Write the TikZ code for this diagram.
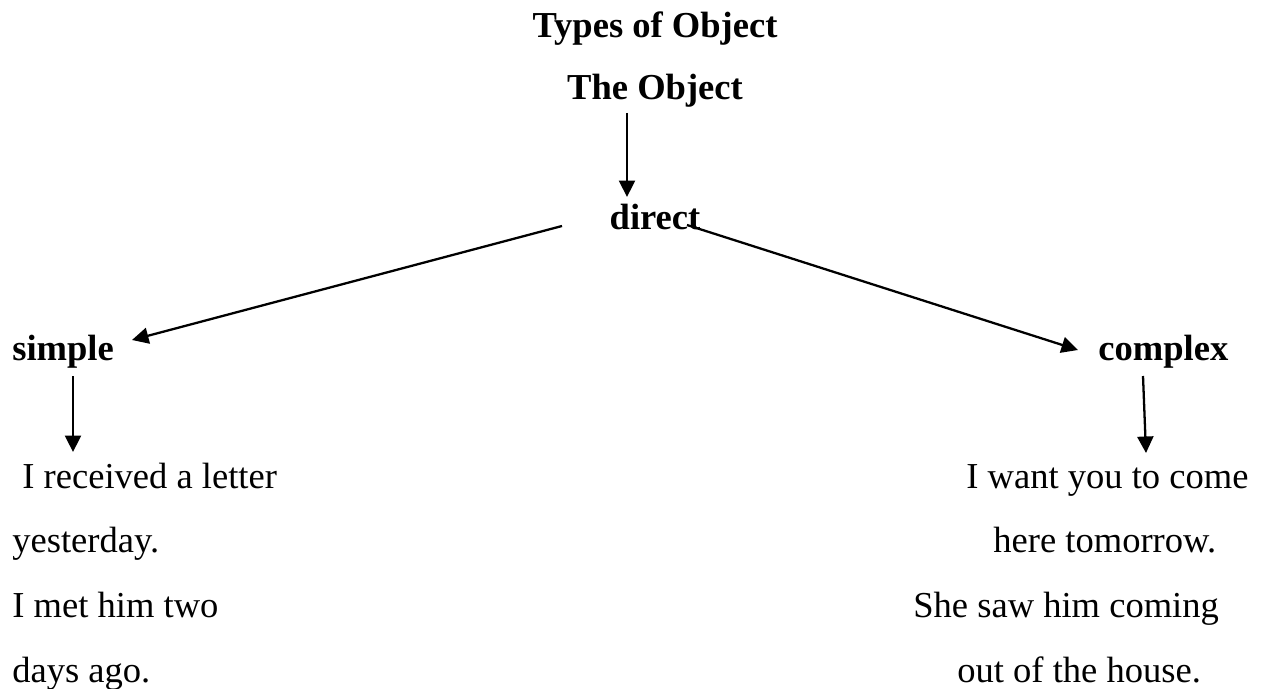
\documentclass[tikz,border=0pt]{standalone}
\usepackage{fontspec}
\setmainfont{Liberation Serif}
\usetikzlibrary{arrows.meta}
\tikzset{
	word/.style={inner sep=0pt,anchor=base west,font=\fontsize{20.8}{25}\selectfont},
	head/.style={word,font=\fontsize{20.8}{25}\selectfont\bfseries},
	arr/.style={line width=1.3pt,-{Triangle[length=0.33cm,width=0.32cm]}}
}
\begin{document}
\begin{tikzpicture}[x=0.02cm,y=-0.02cm]
		\useasboundingbox (0,0) rectangle (1271,689);
		\node[head,anchor=base] (title) at (655,38) {Types of Object};
		\node[head,anchor=base] (obj) at (655,100) {The Object};
		\node[head,anchor=base] (direct) at (655,230) {direct};
		\node[head] (simple) at (12,360) {simple};
		\node[head] (complex) at (1098,360) {complex};
		\node[word] (s1) at (22,488) {I received a letter};
		\node[word] (s2) at (12,552) {yesterday.};
		\node[word] (s3) at (12,617) {I met him two};
		\node[word] (s4) at (12,682) {days ago.};
		\node[word] (c1) at (966,488) {I want you to come};
		\node[word] (c2) at (993,552) {here tomorrow.};
		\node[word] (c3) at (913,617) {She saw him coming};
		\node[word] (c4) at (957,682) {out of the house.};
		\coordinate (objout) at (627,113);
		\coordinate (directin) at (627,197);
		\coordinate (leftout) at (562,226);
		\coordinate (simplein) at (132,340);
		\coordinate (rightout) at (687,225);
		\coordinate (complexin) at (1078,350);
		\coordinate (simpleout) at (73,376);
		\coordinate (s1in) at (73,452);
		\coordinate (complexout) at (1143,376);
		\coordinate (c1in) at (1146,453);
		\draw[arr] (objout) -- (directin);
		\draw[arr] (leftout) -- (simplein);
		\draw[arr] (rightout) -- (complexin);
		\draw[arr] (simpleout) -- (s1in);
		\draw[arr] (complexout) -- (c1in);
	\end{tikzpicture}
\end{document}
